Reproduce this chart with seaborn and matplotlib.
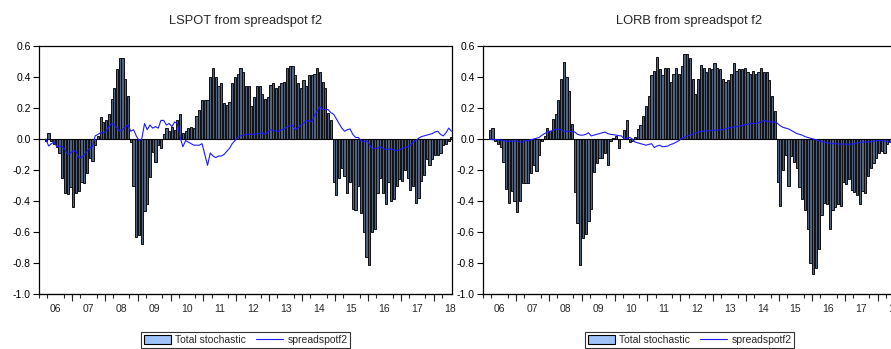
import numpy as np
import pandas as pd
import seaborn as sns
import matplotlib.pyplot as plt
from matplotlib.patches import Patch
from matplotlib.lines import Line2D

# monthly observations 2006M03 .. 2018M07
months = pd.period_range("2006-03", "2018-07", freq="M")
years = list(range(2006, 2019))
year_labels = [f"{y % 100:02d}" for y in years]

# LSPOT panel
lspot_total = [
    -0.01, 0.04, -0.01, -0.03, -0.05, -0.09, -0.25, -0.35, -0.355, -0.31,                # 2006
    -0.44, -0.35, -0.335, -0.28, -0.285, -0.22, -0.12, -0.145, -0.04, 0.02, 0.14, 0.11,   # 2007
    0.12, 0.16, 0.26, 0.33, 0.45, 0.52, 0.52, 0.39, 0.28, -0.02, -0.30, -0.63,            # 2008
    -0.62, -0.675, -0.465, -0.42, -0.245, -0.085, -0.15, -0.04, -0.06, 0.03, 0.07, 0.05,  # 2009
    0.08, 0.06, 0.12, 0.16, 0.04, 0.05, 0.07, 0.08, 0.07, 0.15, 0.19, 0.25,               # 2010
    0.25, 0.25, 0.40, 0.46, 0.40, 0.34, 0.36, 0.23, 0.22, 0.24, 0.36, 0.40,               # 2011
    0.42, 0.46, 0.43, 0.34, 0.34, 0.21, 0.27, 0.34, 0.34, 0.29, 0.26, 0.27,               # 2012
    0.35, 0.36, 0.33, 0.34, 0.36, 0.37, 0.46, 0.47, 0.47, 0.41, 0.36, 0.33,               # 2013
    0.38, 0.34, 0.41, 0.41, 0.42, 0.46, 0.43, 0.37, 0.33, 0.17, 0.12, -0.28,              # 2014
    -0.36, -0.25, -0.19, -0.24, -0.35, -0.28, -0.45, -0.46, -0.30, -0.48, -0.60, -0.76,   # 2015
    -0.81, -0.60, -0.58, -0.35, -0.25, -0.35, -0.42, -0.28, -0.40, -0.39, -0.30, -0.26,   # 2016
    -0.27, -0.20, -0.25, -0.33, -0.30, -0.41, -0.38, -0.27, -0.23, -0.13, -0.17, -0.13,   # 2017
    -0.10, -0.10, -0.09, -0.04, -0.03, -0.01, 0.01,                                       # 2018
]
lspot_spread = [
    0.00, -0.045, -0.03, -0.02, -0.05, -0.045, -0.05, -0.07, -0.10, -0.09,
    -0.075, -0.08, -0.12, -0.12, -0.10, -0.08, -0.06, -0.05, 0.02, 0.03, 0.04, 0.04,
    0.05, 0.08, 0.10, 0.09, 0.07, 0.05, 0.06, 0.08, 0.09, 0.05, 0.06, 0.02,
    -0.01, 0.00, 0.10, 0.06, 0.09, 0.07, 0.08, 0.07, 0.12, 0.12, 0.09, 0.10,
    0.08, 0.11, 0.10, 0.01, -0.05, -0.01, -0.02, -0.03, -0.04, -0.04, -0.04, -0.03,
    -0.10, -0.17, -0.09, -0.11, -0.12, -0.11, -0.11, -0.10, -0.08, -0.06, -0.03, -0.01,
    0.01, 0.02, 0.025, 0.03, 0.03, 0.03, 0.03, 0.035, 0.035, 0.04, 0.03, 0.045,
    0.06, 0.055, 0.05, 0.05, 0.06, 0.065, 0.08, 0.085, 0.09, 0.06, 0.07, 0.09,
    0.10, 0.12, 0.115, 0.11, 0.15, 0.18, 0.21, 0.19, 0.19, 0.19, 0.17, 0.16,
    0.13, 0.10, 0.07, 0.05, 0.06, 0.065, 0.03, 0.01, 0.01, -0.01, -0.02, -0.01,
    -0.03, -0.065, -0.06, -0.06, -0.05, -0.06, -0.07, -0.065, -0.065, -0.07, -0.075, -0.07,
    -0.06, -0.055, -0.05, -0.04, -0.02, -0.01, 0.005, 0.015, 0.02, 0.025, 0.03, 0.035,
    0.045, 0.05, 0.03, 0.02, 0.04, 0.07, 0.05,
]

# LORB panel
lorb_total = [
    0.06, 0.07, -0.01, -0.03, -0.05, -0.15, -0.32, -0.41, -0.336, -0.40,
    -0.47, -0.40, -0.287, -0.283, -0.283, -0.22, -0.165, -0.207, -0.10, -0.01, 0.02, 0.07,
    0.05, 0.13, 0.16, 0.25, 0.39, 0.50, 0.40, 0.31, 0.10, -0.34, -0.54, -0.815,
    -0.64, -0.61, -0.53, -0.45, -0.21, -0.155, -0.12, -0.12, -0.09, -0.165, -0.01, 0.005,
    0.02, -0.055, 0.0, 0.055, 0.125, -0.02, -0.01, 0.01, 0.065, 0.09, 0.15, 0.21,
    0.28, 0.41, 0.44, 0.53, 0.45, 0.41, 0.46, 0.46, 0.37, 0.42, 0.46, 0.42,
    0.47, 0.55, 0.55, 0.52, 0.39, 0.29, 0.39, 0.48, 0.46, 0.43, 0.46, 0.45,
    0.49, 0.46, 0.45, 0.39, 0.37, 0.38, 0.42, 0.49, 0.44, 0.45, 0.45, 0.46,
    0.43, 0.42, 0.44, 0.42, 0.43, 0.46, 0.43, 0.43, 0.38, 0.28, 0.18, -0.28,
    -0.43, -0.20, -0.10, -0.30, -0.11, -0.15, -0.19, -0.31, -0.39, -0.46, -0.58, -0.80,
    -0.87, -0.83, -0.71, -0.49, -0.41, -0.42, -0.58, -0.455, -0.44, -0.42, -0.43, -0.28,
    -0.29, -0.26, -0.33, -0.34, -0.36, -0.42, -0.335, -0.35, -0.24, -0.19, -0.155, -0.12,
    -0.09, -0.075, -0.09, -0.03, -0.02, 0.01, -0.01,
]
lorb_spread = [
    0.0, -0.005, -0.005, -0.005, -0.007, -0.01, -0.015, -0.015, -0.013, -0.013,
    -0.015, -0.02, -0.02, -0.01, -0.01, -0.005, 0.0, 0.005, 0.01, 0.025, 0.035, 0.045,
    0.05, 0.055, 0.065, 0.062, 0.06, 0.05, 0.05, 0.05, 0.048, 0.045, 0.03, 0.025,
    0.025, 0.03, 0.04, 0.02, 0.025, 0.03, 0.035, 0.04, 0.045, 0.035, 0.03, 0.028,
    0.025, 0.022, 0.02, 0.0, 0.005, 0.01, 0.0, -0.02, -0.025, -0.03, -0.035, -0.04,
    -0.035, -0.03, -0.055, -0.045, -0.04, -0.05, -0.048, -0.045, -0.035, -0.03, -0.02, -0.01,
    0.005, 0.01, 0.02, 0.025, 0.03, 0.04, 0.045, 0.05, 0.05, 0.052, 0.054, 0.055,
    0.056, 0.058, 0.06, 0.06, 0.065, 0.07, 0.075, 0.078, 0.08, 0.085, 0.087, 0.09,
    0.095, 0.10, 0.10, 0.10, 0.105, 0.11, 0.12, 0.115, 0.11, 0.11, 0.11, 0.10,
    0.085, 0.075, 0.07, 0.065, 0.055, 0.045, 0.035, 0.03, 0.025, 0.015, 0.01, 0.005,
    0.0, -0.005, -0.01, -0.017, -0.02, -0.025, -0.028, -0.03, -0.03, -0.032, -0.033, -0.033,
    -0.033, -0.033, -0.033, -0.03, -0.025, -0.022, -0.02, -0.02, -0.018, -0.017, -0.015, -0.012,
    -0.01, -0.01, -0.015, -0.015, -0.02, -0.02, -0.025,
]

BAR_FACE = "#53627c"
BAR_EDGE = "#0e1014"
LEGEND_FACE = "#9dc3f7"
LINE_BLUE = "#1a1aff"

sns.set_style("ticks")
plt.rcParams["font.family"] = ["Liberation Sans", "DejaVu Sans"]

# month position, 2006M01 = 0
pos = np.array([(p.year - 2006) * 12 + p.month - 1 for p in months])


def draw_panel(ax, total, spread, title):
    df = pd.DataFrame({"pos": pos, "total": total, "spread": spread})
    sns.barplot(data=df, x="pos", y="total", native_scale=True, width=0.8,
                color=BAR_FACE, saturation=1, edgecolor=BAR_EDGE, linewidth=0.7,
                ax=ax, zorder=2)
    ax.axhline(0, color="black", lw=0.8, zorder=2.5)
    sns.lineplot(data=df, x="pos", y="spread", color=LINE_BLUE, linewidth=0.8,
                 ax=ax, zorder=3)

    ax.set_ylim(-1.0, 0.6)
    yt = np.round(np.arange(-1.0, 0.61, 0.2), 1)
    ax.set_yticks(yt, [f"{v + 0.0:.1f}" if abs(v) > 1e-9 else "0.0" for v in yt])
    ax.tick_params(axis="y", length=4, width=0.8, labelsize=7.5, pad=2, colors="black")

    ax.set_xlim(1.12, 150.2)
    centers = [(y - 2006) * 12 + 5.5 for y in years]
    ax.set_xticks(centers, year_labels)
    ax.set_xticks(np.arange(-0.5, 151, 3), minor=True)
    ax.tick_params(axis="x", which="major", length=0, labelsize=7.5, pad=7)
    ax.tick_params(axis="x", which="minor", length=3, width=0.8)
    sec = ax.secondary_xaxis("bottom")
    sec.set_xticks([(y - 2006) * 12 - 0.5 for y in years[1:]])
    sec.tick_params(length=5, width=0.8, labelbottom=False)

    ax.set_xlabel("")
    ax.set_ylabel("")
    for s in ax.spines.values():
        s.set_visible(True)
        s.set_color("black")
        s.set_linewidth(0.9)

    ax.text(0.5, 1.1, title, transform=ax.transAxes, ha="center", va="center",
            fontsize=9.3)

    handles = [Patch(facecolor=LEGEND_FACE, edgecolor="black", linewidth=0.8),
               Line2D([], [], color=LINE_BLUE, lw=0.8)]
    leg = ax.legend(handles, ["Total stochastic", "spreadspotf2"], loc="upper center",
                    bbox_to_anchor=(0.5, -0.155), ncol=2, frameon=True, fancybox=False,
                    edgecolor="black", fontsize=7.5, handlelength=2.6, handleheight=0.9,
                    borderpad=0.25, columnspacing=1.0, handletextpad=0.4,
                    borderaxespad=0)
    leg.get_frame().set_linewidth(0.8)


fig = plt.figure(figsize=(8.91, 3.49), dpi=100)
ax1 = fig.add_axes([39 / 891, 1 - 294 / 349, 413 / 891, 248 / 349])
ax2 = fig.add_axes([483 / 891, 1 - 294 / 349, 413 / 891, 248 / 349])

draw_panel(ax1, lspot_total, lspot_spread, "LSPOT from spreadspot f2")
draw_panel(ax2, lorb_total, lorb_spread, "LORB from spreadspot f2")

fig.savefig("out.png", dpi=100)
